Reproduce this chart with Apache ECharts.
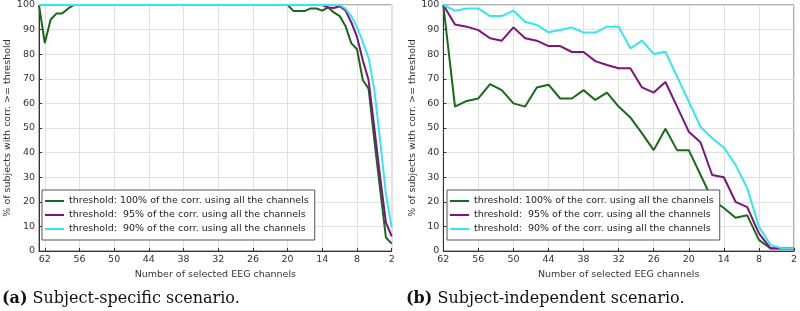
<!DOCTYPE html>
<html>
<head>
<meta charset="utf-8">
<script src="https://cdn.jsdelivr.net/npm/echarts@6/dist/echarts.min.js"></script>
<style>
  html, body { margin: 0; padding: 0; background: #fff; }
  #chart { width: 800px; height: 311px; }
</style>
</head>
<body>
<div id="chart"></div>
<script>
const seriesNames = [
  'threshold: 100% of the corr. using all the channels',
  'threshold:  95% of the corr. using all the channels',
  'threshold:  90% of the corr. using all the channels'
];
const lineColors = ['#176a17', '#7e127e', '#33e6f0'];

// (a) subject-specific: one point per channel count, 63 -> 2
const leftChannels = [63, 62, 61, 60, 59, 58, 57, 56, 55, 54, 53, 52, 51, 50, 49, 48, 47, 46, 45, 44, 43, 42,
  41, 40, 39, 38, 37, 36, 35, 34, 33, 32, 31, 30, 29, 28, 27, 26, 25, 24, 23, 22, 21, 20, 19, 18, 17, 16,
  15, 14, 13, 12, 11, 10, 9, 8, 7, 6, 5, 4, 3, 2];
const left100 = [100, 84.5, 94, 96.5, 96.5, 98.5, 100, 100, 100, 100, 100, 100, 100, 100, 100, 100, 100, 100,
  100, 100, 100, 100, 100, 100, 100, 100, 100, 100, 100, 100, 100, 100, 100, 100, 100, 100, 100, 100, 100,
  100, 100, 100, 100, 100, 97.6, 97.6, 97.6, 98.6, 98.6, 97.7, 99, 97, 95.5, 91.5, 84.5, 82, 69.5, 66, 45, 25, 5.5, 3];
const left95 = [100, 100, 100, 100, 100, 100, 100, 100, 100, 100, 100, 100, 100, 100, 100, 100, 100, 100,
  100, 100, 100, 100, 100, 100, 100, 100, 100, 100, 100, 100, 100, 100, 100, 100, 100, 100, 100, 100, 100,
  100, 100, 100, 100, 100, 100, 100, 100, 100, 100, 100, 99, 98.8, 99.5, 97.8, 93, 87, 77.5, 69.5, 50, 30, 11.5, 6];
const left90 = [100, 100, 100, 100, 100, 100, 100, 100, 100, 100, 100, 100, 100, 100, 100, 100, 100, 100,
  100, 100, 100, 100, 100, 100, 100, 100, 100, 100, 100, 100, 100, 100, 100, 100, 100, 100, 100, 100, 100,
  100, 100, 100, 100, 100, 100, 100, 100, 100, 100, 100, 100, 100, 100, 98.5, 95.5, 91, 85, 78.5, 65.5, 45, 23, 9.5];

// (b) subject-independent: every second channel count, 62 -> 2
const rightChannels = [62, 60, 58, 56, 54, 52, 50, 48, 46, 44, 42, 40, 38, 36, 34, 32, 30, 28, 26, 24, 22,
  20, 18, 16, 14, 12, 10, 8, 6, 4, 2];
const right100 = [100, 58.7, 61, 62, 67.8, 65.4, 60, 58.7, 66.5, 67.6, 62, 62, 65.4, 61.4, 64.4, 58.7, 54.3,
  47.8, 41, 49.7, 41, 41, 31, 21, 17.5, 13.5, 14.5, 4.5, 1, 1, 1];
const right95 = [100, 92.1, 91.2, 89.8, 86.5, 85.5, 90.9, 86.5, 85.5, 83.3, 83.3, 80.9, 80.9, 77.2, 75.6, 74.3,
  74.3, 66.5, 64.4, 68.7, 58.7, 48.5, 44.2, 30.9, 30, 20, 17.8, 7.2, 1.1, 1.1, 1.1];
const right90 = [100, 97.7, 98.6, 98.6, 95.5, 95.5, 97.7, 93.2, 91.9, 88.9, 89.8, 90.9, 88.8, 88.8, 91.2, 91.2,
  82.4, 85.5, 80.1, 81, 70.9, 60.7, 50.5, 45.8, 42.1, 35, 25.5, 9.9, 2.4, 1.1, 1.1];

const yTitle = '% of subjects with corr. >= threshold';
const xTitle = 'Number of selected EEG channels';
const captions = [['(a)', 'Subject-specific scenario.'], ['(b)', 'Subject-independent scenario.']];

const pairs = (xs, ys) => xs.map((x, i) => [x, ys[i]]);

const myChart = echarts.init(document.getElementById('chart'));

const txt = { fontFamily: 'DejaVu Sans', fontSize: 9.5, color: '#333' };

const makeX = (i, max) => ({
  gridIndex: i,
  type: 'value',
  inverse: true,
  min: 2,
  max: max,
  interval: 6,
  name: xTitle,
  nameLocation: 'middle',
  nameGap: 17,
  nameTextStyle: txt,
  axisLine: { lineStyle: { color: '#333' } },
  axisTick: { inside: true, length: 3, lineStyle: { color: '#333' } },
  axisLabel: { ...txt, margin: 4, formatter: v => (v === 63 ? '' : v) },
  splitLine: { show: true, lineStyle: { color: '#e0e0e0' } }
});

const makeY = i => ({
  gridIndex: i,
  type: 'value',
  min: 0,
  max: 100,
  interval: 10,
  name: yTitle,
  nameLocation: 'middle',
  nameRotate: 90,
  nameGap: 24,
  nameTextStyle: txt,
  axisLine: { show: true, lineStyle: { color: '#333' } },
  axisTick: { show: true, inside: true, length: 3, lineStyle: { color: '#333' } },
  axisLabel: { ...txt, margin: 4 },
  splitLine: { show: true, lineStyle: { color: '#e0e0e0' } }
});

const makeLegend = left => ({
  data: seriesNames,
  orient: 'vertical',
  left: left,
  top: 190,
  backgroundColor: '#fff',
  borderColor: '#555',
  borderWidth: 1,
  borderRadius: 0,
  padding: [5, 6, 5, 3],
  itemGap: 2,
  itemWidth: 19,
  itemHeight: 2,
  icon: 'rect',
  selectedMode: false,
  textStyle: { fontFamily: 'DejaVu Sans', fontSize: 9.5, color: '#222', lineHeight: 12 }
});

const leftData = [left100, left95, left90];
const rightData = [right100, right95, right90];
const series = [];
[[leftChannels, leftData], [rightChannels, rightData]].forEach(([xs, sets], g) => {
  sets.forEach((ys, k) => {
    series.push({
      name: seriesNames[k],
      type: 'line',
      xAxisIndex: g,
      yAxisIndex: g,
      data: pairs(xs, ys),
      showSymbol: false,
      symbol: 'none',
      color: lineColors[k],
      lineStyle: { width: 2, color: lineColors[k] },
      z: 3 + k
    });
  });
});

const captionStyle = (left, pair) => ({
  type: 'text',
  left: left,
  top: 291,
  style: {
    text: '{b|' + pair[0] + '} ' + pair[1],
    fontFamily: 'DejaVu Serif',
    fontSize: 16,
    fill: '#111',
    rich: { b: { fontFamily: 'DejaVu Serif', fontSize: 16, fontWeight: 'bold', fill: '#111' } }
  }
});

myChart.setOption({
  animation: false,
  textStyle: { fontFamily: 'DejaVu Sans' },
  grid: [
    { left: 39, top: 5, width: 352.7, height: 246, show: true, borderColor: '#666', borderWidth: 1 },
    { left: 443.3, top: 5, width: 352.3, height: 246, show: true, borderColor: '#666', borderWidth: 1 }
  ],
  xAxis: [makeX(0, 63), makeX(1, 62)],
  yAxis: [makeY(0), makeY(1)],
  legend: [makeLegend(42), makeLegend(447)],
  graphic: [captionStyle(2, captions[0]), captionStyle(406, captions[1])],
  series: series
});

window.addEventListener('resize', myChart.resize);
</script>
</body>
</html>
